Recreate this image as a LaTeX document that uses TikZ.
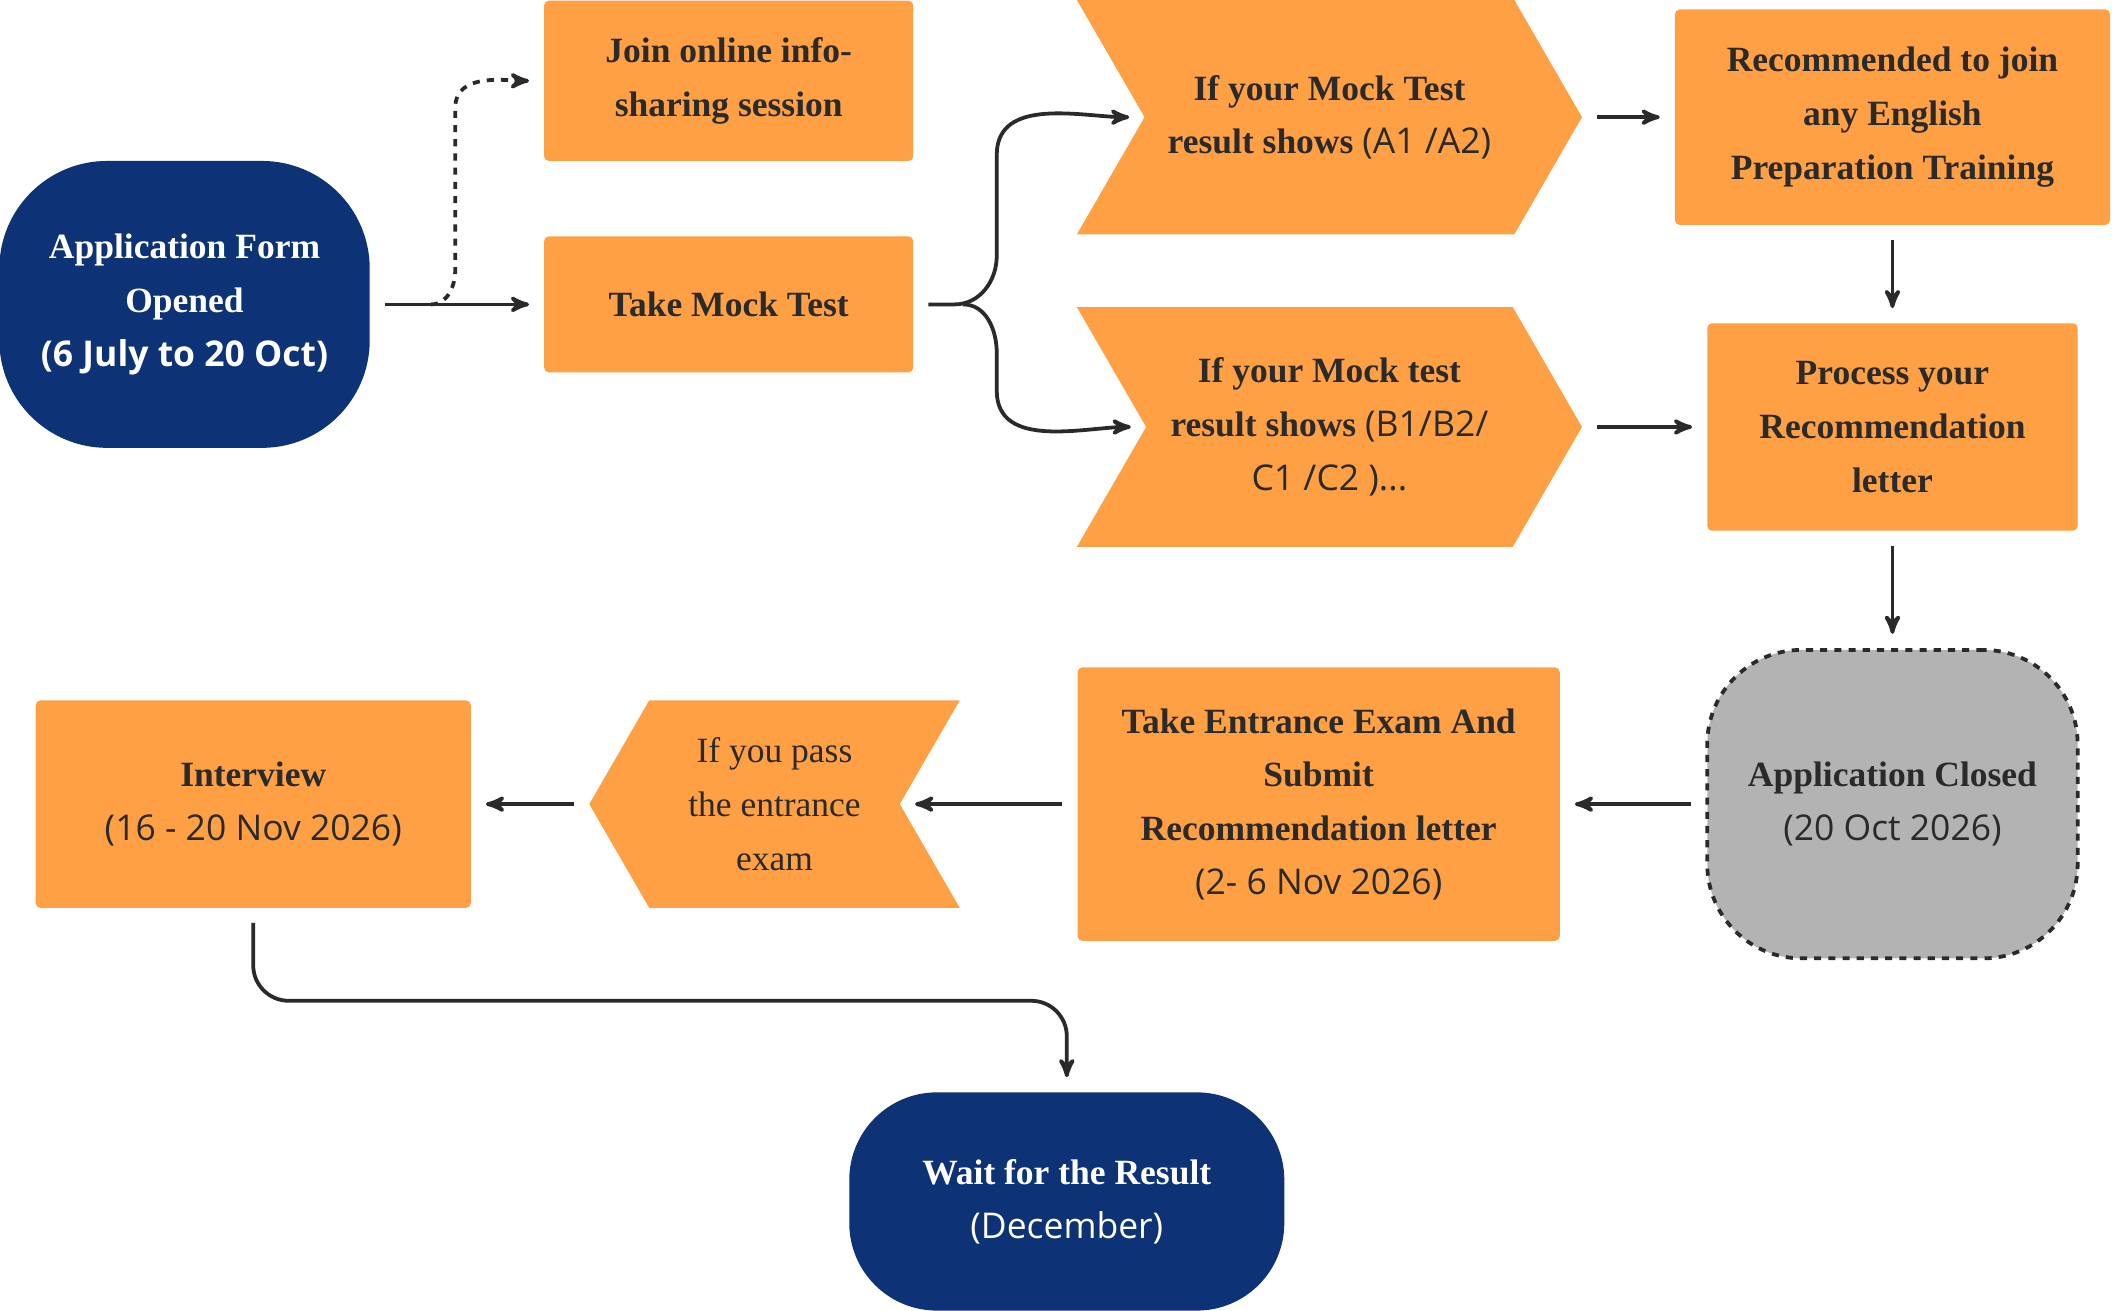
\documentclass[tikz,border=0pt]{standalone}
\usepackage{fontspec}
\setmainfont{Liberation Serif}
\setsansfont{Open Sans}
\usetikzlibrary{arrows,shapes.symbols,positioning}
\definecolor{navy}{HTML}{0D3276}
\definecolor{orng}{HTML}{FFA045}
\definecolor{ink}{HTML}{2A2A2A}
\definecolor{greybox}{HTML}{B3B3B3}
\newcommand{\sz}{\fontsize{15}{22.7}\selectfont}
\newcommand{\sub}[1]{{\sffamily\mdseries #1}}
\begin{document}
\begin{tikzpicture}[x=0.02cm,y=-0.02cm,>=stealth',thick,
    box/.style={fill=orng,rounded corners=2pt,align=center,text=ink,font=\sz\bfseries,inner sep=2pt},
    blue node/.style={fill=navy,rounded corners=1.6cm,align=center,text=white,font=\sz\bfseries},
    chev/.style={signal,fill=orng,align=center,text=ink,font=\sz\bfseries,signal pointer angle=120,inner sep=0pt},
    link/.style={draw=ink,line width=1.6pt,->,shorten >=6pt,shorten <=6pt}]
\useasboundingbox (0,0) rectangle (1568,973);
\node[blue node,minimum width=275*0.02cm,minimum height=213*0.02cm] (form) at (137,226)
  {Application Form\\Opened\\\sub{\bfseries(6 July to 20 Oct)}};
\node[box,minimum width=274*0.02cm,minimum height=119*0.02cm] (join) at (541,60) {Join online info-\\sharing session};
\node[box,minimum width=274*0.02cm,minimum height=101*0.02cm] (mock) at (541,226) {Take Mock Test};
\node[chev,signal from=west,signal to=east,minimum width=375*0.02cm,minimum height=174*0.02cm] (low) at (987,87)
  {If your Mock Test\\result shows \sub{(A1 /A2)}};
\node[chev,signal from=west,signal to=east,minimum width=375*0.02cm,minimum height=178*0.02cm] (high) at (987,317)
  {If your Mock test\\result shows \sub{(B1/B2/}\\\sub{C1 /C2 )...}};
\node[box,minimum width=323*0.02cm,minimum height=160*0.02cm] (train) at (1405,87)
  {Recommended to join\\any English\\Preparation Training};
\node[box,minimum width=275*0.02cm,minimum height=154*0.02cm] (letter) at (1405,317)
  {Process your\\Recommendation\\letter};
\node[fill=greybox,draw=ink,dashed,line width=1.6pt,rounded corners=1.4cm,align=center,text=ink,font=\sz\bfseries,
  minimum width=275*0.02cm,minimum height=229*0.02cm] (closed) at (1405,597)
  {Application Closed\\\sub{(20 Oct 2026)}};
\node[box,minimum width=358*0.02cm,minimum height=203*0.02cm] (exam) at (979,597)
  {Take Entrance Exam And\\Submit\\Recommendation letter\\\sub{(2- 6 Nov 2026)}};
\node[chev,signal from=east,signal to=west,minimum width=275*0.02cm,minimum height=154*0.02cm,font=\sz\mdseries] (pass) at (575,597)
  {If you pass\\the entrance\\exam};
\node[box,minimum width=323*0.02cm,minimum height=154*0.02cm] (interview) at (188,597)
  {Interview\\\sub{(16 - 20 Nov 2026)}};
\node[blue node,minimum width=323*0.02cm,minimum height=162*0.02cm,rounded corners=1.3cm] (result) at (792,892)
  {Wait for the Result\\\sub{(December)}};
\coordinate (bend) at (320,226);
\draw[link] (form) -- (mock);
\draw[link,dashed,shorten <=0pt] (bend) to[out=0,in=-90] (338,200) -- (338,80) to[out=90,in=180] (join.west);
\draw[link] (mock.east) -- ++(30,0) to[out=0,in=-90] (740,190) -- (740,115) to[out=90,in=180] (low.west);
\draw[link,shorten <=0pt] (715,226) to[out=0,in=90] (740,262) -- (740,290) to[out=-90,in=180] (high.west);
\draw[link] (low.east) -- (train);
\draw[link] (train) -- (letter);
\draw[link] (high.east) -- (letter);
\draw[link] (letter) -- (closed);
\draw[link] (closed) -- (exam);
\draw[link] (exam) -- (pass.east);
\draw[link] (pass.west) -- (interview);
\draw[link,rounded corners=15pt] (interview) -- (188,743) -- (792,743) -- (result);
\end{tikzpicture}
\end{document}
